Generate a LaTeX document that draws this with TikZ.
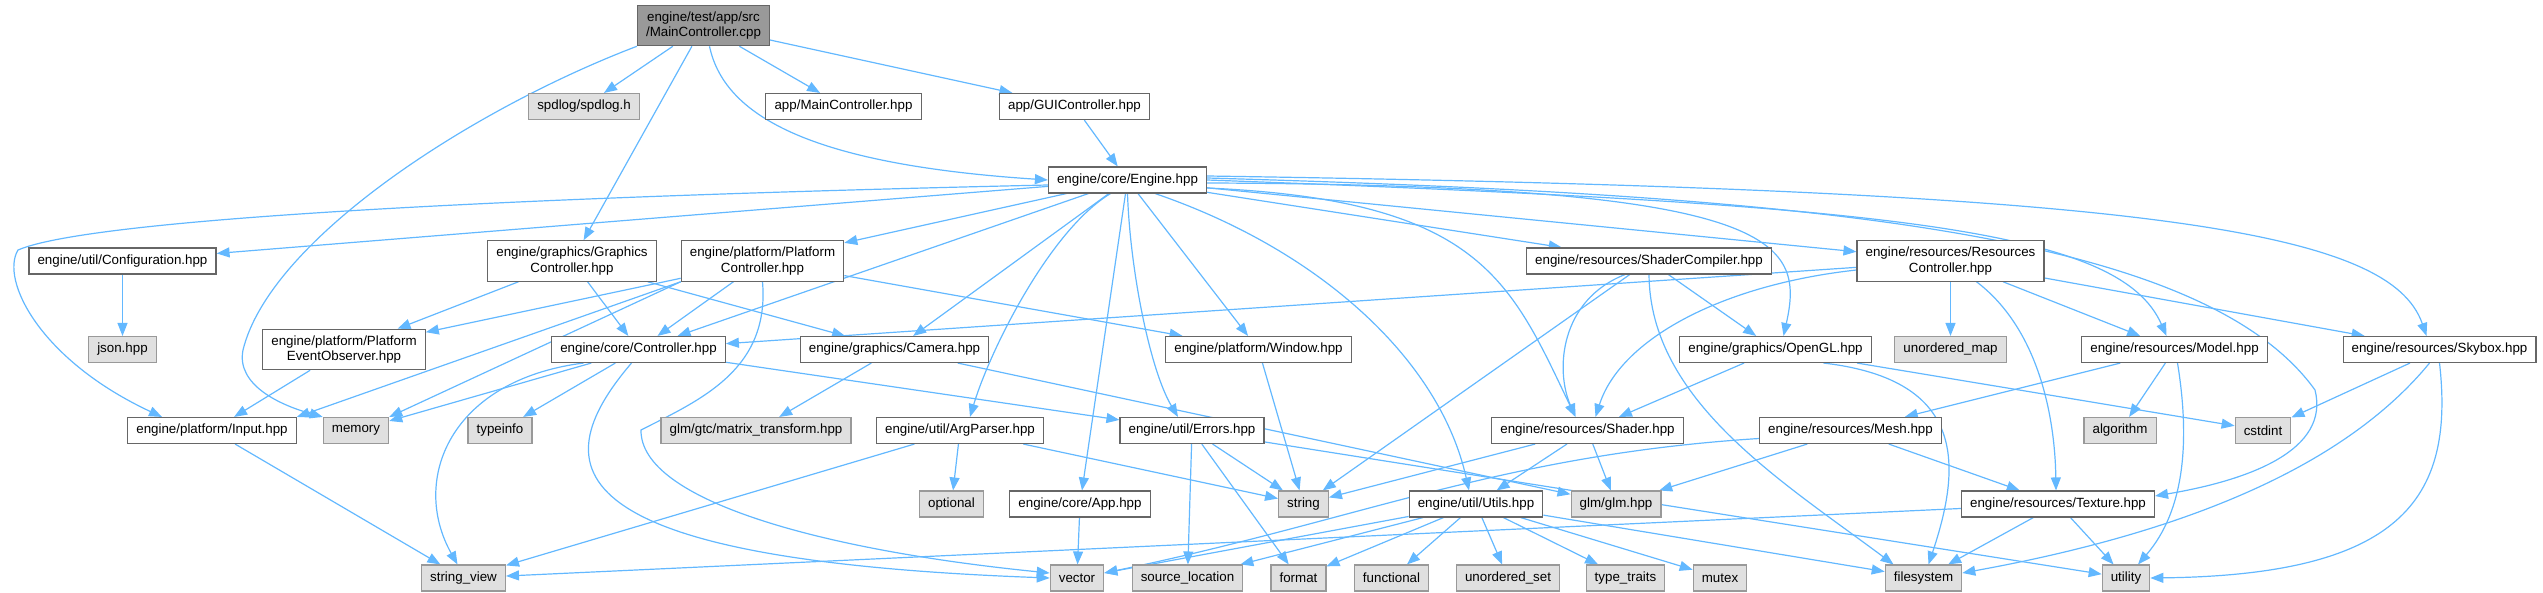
\documentclass[tikz,border=0pt]{standalone}
\usepackage{fontspec}
\setmainfont{Liberation Sans}
\usetikzlibrary{arrows.meta,calc,backgrounds}
\definecolor{edgeblue}{HTML}{63B8FF}
\definecolor{boxline}{HTML}{666666}
\definecolor{sysline}{HTML}{999999}
\definecolor{sysfill}{HTML}{E0E0E0}
\definecolor{rootfill}{HTML}{999999}
\tikzset{
  fnode/.style={draw=boxline,fill=white,line width=0.55pt,inner xsep=4.3pt,inner ysep=3.2pt,
    minimum height=13pt,align=center,font=\fontsize{6.67pt}{7.6pt}\selectfont}, % project header
  sysh/.style={fnode,draw=sysline,fill=sysfill},  % system / external header
  rootf/.style={fnode,fill=rootfill},             % the file itself
  dep/.style={draw=edgeblue,line width=0.6pt,-{Triangle[length=6.5pt,width=5pt]}}, % include edge
}
\begin{document}
\begin{tikzpicture}[x=0.5pt,y=-0.5pt]
  \useasboundingbox (0,0) rectangle (2543,593);
  % rank 0-2
  \node[rootf] (root) at (703.5,25.5) {engine/test/app/src\\/MainController.cpp};
  \node[sysh] (spdlog) at (584,106.5) {spdlog/spdlog.h};
  \node[fnode] (mainh) at (843.5,106.5) {app/MainController.hpp};
  \node[fnode] (guih) at (1074.5,106.5) {app/GUIController.hpp};
  \node[fnode] (engine) at (1127.5,180) {engine/core/Engine.hpp};
  % rank 3
  \node[fnode] (config) at (122.5,261) {engine/util/Configuration.hpp};
  \node[fnode] (gfxctl) at (572,261) {engine/graphics/Graphics\\Controller.hpp};
  \node[fnode] (platctl) at (762.5,261) {engine/platform/Platform\\Controller.hpp};
  \node[fnode] (shcomp) at (1649,261) {engine/resources/ShaderCompiler.hpp};
  \node[fnode] (resctl) at (1950.5,261) {engine/resources/Resources\\Controller.hpp};
  % rank 4
  \node[sysh] (json) at (122.5,349.5) {json.hpp};
  \node[fnode] (evobs) at (344,349.5) {engine/platform/Platform\\EventObserver.hpp};
  \node[fnode] (ctrl) at (638.5,349.5) {engine/core/Controller.hpp};
  \node[fnode] (camera) at (894.5,349.5) {engine/graphics/Camera.hpp};
  \node[fnode] (window) at (1258.5,349.5) {engine/platform/Window.hpp};
  \node[fnode] (opengl) at (1775.5,349.5) {engine/graphics/OpenGL.hpp};
  \node[sysh] (umap) at (1950.5,349.5) {unordered\_map};
  \node[fnode] (model) at (2174.5,349.5) {engine/resources/Model.hpp};
  \node[fnode] (skybox) at (2439.5,349.5) {engine/resources/Skybox.hpp};
  % rank 5
  \node[fnode] (input) at (212,430.5) {engine/platform/Input.hpp};
  \node[sysh] (memory) at (356,430.5) {memory};
  \node[sysh] (typeinfo) at (500,430.5) {typeinfo};
  \node[sysh] (glmgtc) at (756,430.5) {glm/gtc/matrix\_transform.hpp};
  \node[fnode] (argp) at (960,430.5) {engine/util/ArgParser.hpp};
  \node[fnode] (errors) at (1192,430.5) {engine/util/Errors.hpp};
  \node[fnode] (shader) at (1587.5,430.5) {engine/resources/Shader.hpp};
  \node[fnode] (mesh) at (1850.5,430.5) {engine/resources/Mesh.hpp};
  \node[sysh] (algo) at (2120,430.5) {algorithm};
  \node[sysh] (cstdint) at (2263,430.5) {cstdint};
  % rank 6
  \node[sysh] (optional) at (951.5,504) {optional};
  \node[fnode] (app) at (1080,504) {engine/core/App.hpp};
  \node[sysh] (str) at (1303.5,504) {string};
  \node[fnode] (utils) at (1476,504) {engine/util/Utils.hpp};
  \node[sysh] (glm) at (1616,504) {glm/glm.hpp};
  \node[fnode] (texture) at (2058,504) {engine/resources/Texture.hpp};
  % rank 7
  \node[sysh] (strview) at (463.5,578) {string\_view};
  \node[sysh] (vector) at (1077,578) {vector};
  \node[sysh] (srcloc) at (1187.5,578) {source\_location};
  \node[sysh] (format) at (1298.5,578) {format};
  \node[sysh] (functional) at (1391.5,578) {functional};
  \node[sysh] (uset) at (1508,578) {unordered\_set};
  \node[sysh] (ttraits) at (1625.5,578) {type\_traits};
  \node[sysh] (mutex) at (1720,578) {mutex};
  \node[sysh] (fs) at (1923.5,578) {filesystem};
  \node[sysh] (utility) at (2126,578) {utility};

  \begin{scope}[on background layer]
  % the source file
  \draw[dep] (root.south west) .. controls (470,110) and (270,240) .. (243,350)
    .. controls (236,385) and (280,405) .. (memory.north west);
  \draw[dep] (root) -- (spdlog);
  \draw[dep] (root) -- (gfxctl);
  \draw[dep] ($(root.south)+(6,0)$) .. controls (725,120) and (820,165) .. (engine.west);
  \draw[dep] (root) -- (mainh);
  \draw[dep] (root) -- (guih);
  \draw[dep] (guih) -- (engine);
  % Engine.hpp
  \draw[dep] ($(engine.west)+(0,5)$) .. controls (600,195) and (100,215) .. (18,250)
    .. controls (0,280) and (40,360) .. ($(input.north)+(-50,0)$);
  \draw[dep] (engine) -- (config);
  \draw[dep] (engine) -- (platctl);
  \draw[dep] (engine) -- (ctrl);
  \draw[dep] (engine) -- (camera);
  \draw[dep] ($(engine.south)+(-17,0)$) .. controls (1050,230) and (990,350) .. ($(argp.north)+(10,0)$);
  \draw[dep] (engine) -- (app);
  \draw[dep] (engine.south) .. controls (1130,270) and (1150,370) .. ($(errors.north)+(-14,0)$);
  \draw[dep] (engine) -- (window);
  \draw[dep] ($(engine.south east)+(-52,0)$) .. controls (1320,250) and (1440,360) .. ($(utils.north)+(-7,0)$);
  \draw[dep] ($(engine.east)+(0,8)$) .. controls (1480,200) and (1510,280) .. ($(shader.north)+(-12,0)$);
  \draw[dep] (engine) -- (shcomp);
  \draw[dep] (engine) -- (resctl);
  \draw[dep] ($(engine.east)+(0,3)$) .. controls (1780,185) and (1805,240) .. ($(opengl.north)+(8,0)$);
  \draw[dep] (engine.east) .. controls (1900,205) and (2120,230) .. ($(model.north)+(-8,0)$);
  \draw[dep] ($(engine.east)+(0,-4)$) .. controls (2150,190) and (2390,230) .. ($(skybox.north)+(-13,0)$);
  \draw[dep] ($(engine.east)+(0,-2)$) .. controls (1800,195) and (2200,230) .. (2315,390)
    .. controls (2330,450) and (2250,480) .. ($(texture.east)+(0,-8)$);
  % GraphicsController.hpp, PlatformController.hpp
  \draw[dep] (gfxctl) -- (evobs);
  \draw[dep] (gfxctl) -- (ctrl);
  \draw[dep] (gfxctl) -- (camera);
  \draw[dep] (platctl) -- (evobs);
  \draw[dep] (platctl.south west) -- (input.north east);
  \draw[dep] (platctl.south west) -- (memory.north east);
  \draw[dep] (platctl) -- (ctrl);
  \draw[dep] (platctl) -- (window);
  \draw[dep] (platctl.south) .. controls (770,370) and (700,400) .. (641,430)
    .. controls (640,500) and (820,550) .. ($(vector.west)+(0,-5)$);
  % Controller.hpp and the left part
  \draw[dep] (ctrl) -- (memory);
  \draw[dep] (ctrl) -- (typeinfo);
  \draw[dep] ($(ctrl.south)+(-55,0)$) .. controls (450,380) and (410,480) .. ($(strview.north)+(-6,0)$);
  \draw[dep] ($(ctrl.south)+(-7,0)$) .. controls (540,470) and (560,560) .. (vector.west);
  \draw[dep] (ctrl) -- (errors);
  \draw[dep] (evobs) -- (input);
  \draw[dep] (config) -- (json);
  \draw[dep] (input) -- (strview);
  \draw[dep] (camera) -- (glmgtc);
  \draw[dep] (camera) -- (glm);
  \draw[dep] (window) -- (str);
  \draw[dep] (argp) -- (optional);
  \draw[dep] (argp) -- (str);
  \draw[dep] (argp) -- (strview);
  \draw[dep] (app) -- (vector);
  \draw[dep] (errors) -- (str);
  \draw[dep] (errors) -- (srcloc);
  \draw[dep] (errors) -- (format);
  \draw[dep] (errors) -- (utility);
  % resources
  \draw[dep] (shcomp) -- (str);
  \draw[dep] ($(shcomp.south)+(-24,0)$) .. controls (1560,300) and (1555,370) .. ($(shader.north)+(-12,0)$);
  \draw[dep] (shcomp) -- (opengl);
  \draw[dep] (shcomp.south) .. controls (1650,400) and (1780,480) .. ($(fs.north)+(-30,0)$);
  \draw[dep] (resctl) -- (ctrl);
  \draw[dep] ($(resctl.west)+(0,9)$) .. controls (1720,285) and (1620,340) .. ($(shader.north)+(8,0)$);
  \draw[dep] (resctl) -- (umap);
  \draw[dep] (resctl) -- (model);
  \draw[dep] (resctl) -- (skybox);
  \draw[dep] ($(resctl.south)+(26,0)$) .. controls (2040,330) and (2055,420) .. ($(texture.north)+(-2,0)$);
  \draw[dep] (opengl) -- (shader);
  \draw[dep] (opengl) -- (cstdint);
  \draw[dep] ($(opengl.south)+(48,0)$) .. controls (1970,380) and (1960,470) .. ($(fs.north)+(5,0)$);
  \draw[dep] (shader) -- (str);
  \draw[dep] (shader) -- (utils);
  \draw[dep] (shader) -- (glm);
  \draw[dep] (model) -- (mesh);
  \draw[dep] (model) -- (algo);
  \draw[dep] ($(model.south)+(3,0)$) .. controls (2190,440) and (2185,510) .. ($(utility.north)+(12,0)$);
  \draw[dep] (skybox) -- (cstdint);
  \draw[dep] ($(skybox.south)+(-10,0)$) .. controls (2350,460) and (2200,530) .. ($(fs.east)+(0,-5)$);
  \draw[dep] (skybox.south) .. controls (2455,500) and (2400,575) .. (utility.east);
  \draw[dep] (mesh) -- (texture);
  \draw[dep] (mesh) -- (glm);
  \draw[dep] ($(mesh.west)+(0,8)$) .. controls (1500,455) and (1360,520) .. ($(vector.east)+(0,-5)$);
  \draw[dep] (texture) -- (fs);
  \draw[dep] (texture) -- (utility);
  \draw[dep] (texture) -- (strview);
  % Utils.hpp
  \draw[dep] (utils) -- (vector);
  \draw[dep] (utils) -- (srcloc);
  \draw[dep] (utils) -- (format);
  \draw[dep] (utils) -- (functional);
  \draw[dep] (utils) -- (uset);
  \draw[dep] (utils) -- (ttraits);
  \draw[dep] (utils) -- (mutex);
  \draw[dep] (utils) -- (fs);
  \end{scope}
\end{tikzpicture}
\end{document}
